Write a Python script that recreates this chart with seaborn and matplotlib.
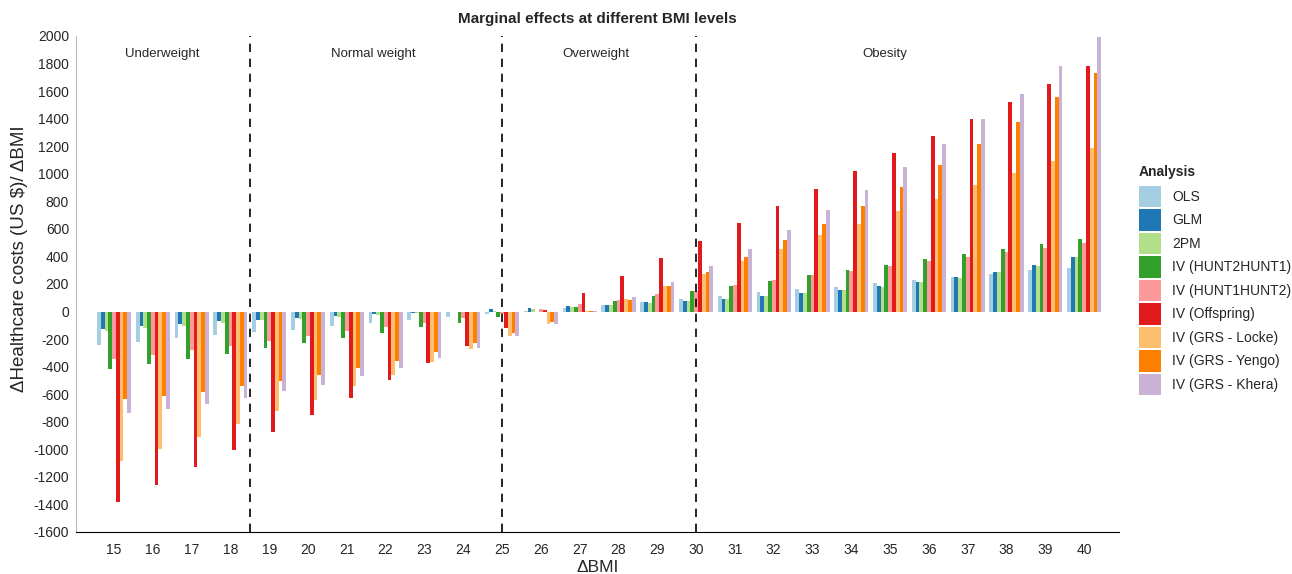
import pandas as pd
import seaborn as sns
import matplotlib.pyplot as plt

# BMI levels on the x axis
bmi = list(range(15, 41))

# marginal effects per analysis (US $ per BMI unit)
ols = [-240, -223, -194, -169, -152, -131, -106, -85, -60, -39, -19, 7, 29,
       51, 70, 94, 116, 140, 162, 181, 208, 230, 249, 273, 298, 317]
glm = [-126, -106, -87, -70, -58, -44, -34, -19, -12, -3, 15, 27, 41,
       51, 70, 80, 94, 114, 135, 157, 186, 218, 249, 290, 341, 397]
tpm = [-143, -119, -102, -82, -65, -51, -39, -27, -7, -2, 5, 17, 34,
       44, 60, 75, 94, 111, 131, 155, 181, 218, 247, 290, 334, 394]
iv_h2h1 = [-416, -382, -343, -307, -266, -227, -191, -155, -111, -82, -39, -2, 34,
           75, 114, 150, 189, 223, 264, 305, 339, 380, 418, 452, 491, 525]
iv_h1h2 = [-348, -312, -281, -247, -215, -179, -143, -109, -80, -46, -15, 19, 58,
           87, 128, 150, 196, 227, 264, 295, 329, 365, 397, 431, 464, 498]
iv_offspring = [-1386, -1258, -1130, -1004, -876, -752, -624, -498, -370, -247, -121, 10, 135,
                261, 387, 515, 643, 769, 890, 1021, 1149, 1275, 1398, 1524, 1652, 1780]
iv_locke = [-1086, -1001, -907, -815, -723, -641, -544, -457, -368, -273, -181, -90, 2,
            94, 184, 276, 370, 457, 552, 639, 733, 820, 917, 1004, 1096, 1190]
iv_yengo = [-636, -614, -581, -544, -501, -464, -409, -356, -295, -225, -157, -75, 6,
            87, 186, 290, 399, 520, 639, 769, 907, 1060, 1214, 1376, 1555, 1732]
iv_khera = [-733, -706, -670, -627, -576, -530, -469, -411, -339, -261, -181, -94, 4,
            102, 215, 334, 457, 595, 740, 885, 1052, 1219, 1396, 1580, 1780, 1993]

analyses = ['OLS', 'GLM', '2PM', 'IV (HUNT2HUNT1)', 'IV (HUNT1HUNT2)', 'IV (Offspring)',
            'IV (GRS - Locke)', 'IV (GRS - Yengo)', 'IV (GRS - Khera)']
series = [ols, glm, tpm, iv_h2h1, iv_h1h2, iv_offspring, iv_locke, iv_yengo, iv_khera]
colors = ['#a6cee3', '#1f78b4', '#b2df8a', '#33a02c', '#fb9a99', '#e31a1c',
          '#fdbf6f', '#ff7f00', '#cab2d6']

# BMI category boundaries (dashed lines) and labels
cat_names = ['Underweight', 'Normal weight', 'Overweight', 'Obesity']
cat_bounds = [18.5, 25, 30]

rows = []
for name, vals in zip(analyses, series):
    for b, v in zip(bmi, vals):
        rows.append({'BMI': b, 'cost': v, 'Analysis': name})
df = pd.DataFrame(rows)

sns.set_style('white')
plt.rcParams['font.family'] = ['Liberation Sans', 'DejaVu Sans']
plt.rcParams['axes.unicode_minus'] = False

fig = plt.figure(figsize=(12.92, 5.74), dpi=100)
ax = fig.add_axes([0.0588, 0.0732, 0.8073, 0.8641])

sns.barplot(data=df, x='BMI', y='cost', hue='Analysis', hue_order=analyses,
            palette=colors, saturation=1, width=0.88, errorbar=None,
            linewidth=0, ax=ax)

ax.set_ylim(-1600, 2000)
ax.set_yticks(range(-1600, 2001, 200))
ax.set_xlim(-0.98, 25.9)

# dashed separators, mapped from BMI to category index
for b in cat_bounds:
    ax.axvline(b - bmi[0], color='black', linestyle=(0, (5, 4)), linewidth=1.2)

label_x = [1.24, 6.68, 12.42, 19.87]
for name, xpos in zip(cat_names, label_x):
    ax.text(xpos, 1870, name, ha='center', va='center', fontsize=9.5)

ax.set_title('Marginal effects at different BMI levels', fontsize=11, fontweight='bold', pad=9)
ax.set_xlabel('\u0394BMI', fontsize=12.5, labelpad=2)
ax.set_ylabel('\u0394Healthcare costs (US $)/ \u0394BMI', fontsize=13.5)
ax.yaxis.set_label_coords(-0.046, 0.55)
ax.tick_params(axis='y', labelsize=10, length=3, color='#444444', pad=2)
ax.tick_params(axis='x', labelsize=10, length=0, pad=8)

sns.despine(ax=ax)
ax.spines['left'].set_color('#bbbbbb')
ax.spines['bottom'].set_color('black')

leg = ax.legend(title='Analysis', loc='upper left', bbox_to_anchor=(0.872, 0.735),
                bbox_transform=fig.transFigure, frameon=False, fontsize=10,
                handlelength=1.6, handleheight=2.0, labelspacing=0.15,
                handletextpad=0.8, alignment='left')
leg.get_title().set_fontweight('bold')
leg.get_title().set_fontsize(10)
leg._legend_box.sep = 5

fig.savefig('out.png', dpi=100)
